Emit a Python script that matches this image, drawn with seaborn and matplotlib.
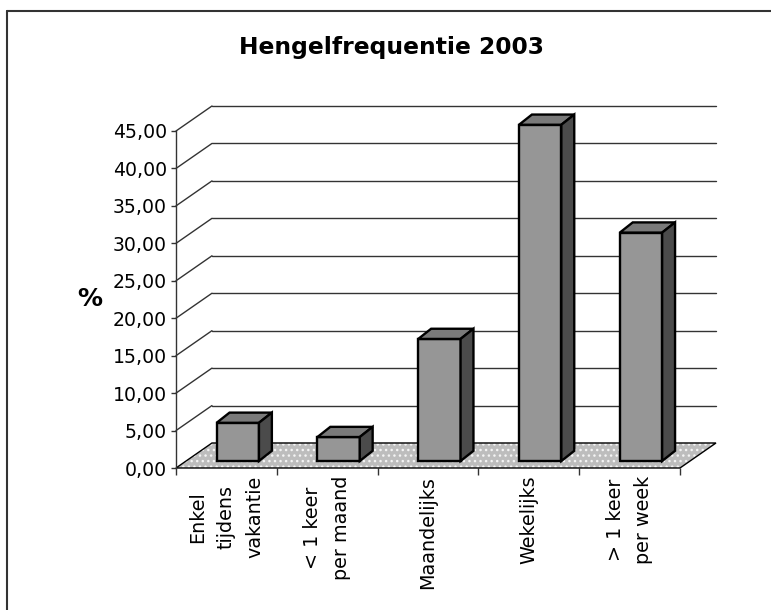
import matplotlib
matplotlib.use("Agg")
import matplotlib.pyplot as plt
from matplotlib.patches import Polygon, Rectangle
from matplotlib.lines import Line2D
from matplotlib.ticker import FuncFormatter, FixedLocator
import seaborn as sns
import pandas as pd

# ---- data ----
categories = ["Enkel\ntijdens\nvakantie", "< 1 keer\nper maand", "Maandelijks", "Wekelijks", "> 1 keer\nper week"]
values = [5.1, 3.2, 16.3, 44.9, 30.5]
y_ticks = [0, 5, 10, 15, 20, 25, 30, 35, 40, 45]
title = "Hengelfrequentie 2003"
y_label = "%"

sns.set_style("white")
plt.rcParams["font.family"] = ["DejaVu Sans"]
plt.rcParams["text.color"] = "black"
plt.rcParams["axes.labelcolor"] = "black"
plt.rcParams["xtick.color"] = "black"
plt.rcParams["ytick.color"] = "black"
plt.rcParams["hatch.linewidth"] = 1.0

W, H = 771, 610
fig = plt.figure(figsize=(W / 100, H / 100), dpi=100)
ax = fig.add_axes([176 / W, (H - 468) / H, 504 / W, 337 / H])

df = pd.DataFrame({"cat": categories, "val": values})

# depth geometry (data units)
DX, DY = 0.357, 3.34          # wall depth
FX, FY = 0.113, 0.935         # bar front-face offset
BX, BY = 0.128, 1.36          # bar depth
BAR_W = 0.42

front_col = "#969696"
top_col = "#7a7a7a"
side_col = "#4b4b4b"

sns.barplot(data=df, x="cat", y="val", color=front_col, saturation=1,
            width=BAR_W, edgecolor="black", linewidth=1.7, ax=ax, zorder=3)
bars = [p for p in ax.patches if isinstance(p, Rectangle)]

ax.set_xlim(-0.5, 4.5)
ax.set_ylim(0, 45)

# back wall gridlines and diagonals
for v in y_ticks:
    if v > 0:
        ax.plot([-0.5, -0.5 + DX], [v, v + DY], color="#333333", lw=1.0, zorder=0.5, clip_on=False)
        ax.plot([-0.5 + DX, 4.5 + DX], [v + DY, v + DY], color="#333333", lw=1.0, zorder=0.5, clip_on=False)

# floor
floor_pts = [(-0.5, 0), (4.5, 0), (4.5 + DX, DY), (-0.5 + DX, DY)]
ax.add_patch(Polygon(floor_pts, closed=True, facecolor="#bdbdbd", edgecolor="#f4f4f4",
                     hatch="...", linewidth=0, zorder=1, clip_on=False))
ax.add_patch(Polygon(floor_pts, closed=True, fill=False, edgecolor="black",
                     linewidth=1.0, zorder=1.1, clip_on=False))

# move bars onto the floor and add 3D top / side faces
for p in bars:
    p.set_x(p.get_x() + FX)
    p.set_y(FY)
    p.set_clip_on(False)
    x0, w, h = p.get_x(), p.get_width(), p.get_height()
    y0 = FY
    top = [(x0, y0 + h), (x0 + w, y0 + h), (x0 + w + BX, y0 + h + BY), (x0 + BX, y0 + h + BY)]
    side = [(x0 + w, y0), (x0 + w + BX, y0 + BY), (x0 + w + BX, y0 + h + BY), (x0 + w, y0 + h)]
    ax.add_patch(Polygon(top, closed=True, facecolor=top_col, edgecolor="black",
                         linewidth=1.7, zorder=3, clip_on=False, joinstyle="miter"))
    ax.add_patch(Polygon(side, closed=True, facecolor=side_col, edgecolor="black",
                         linewidth=1.7, zorder=3, clip_on=False, joinstyle="miter"))

# spines
for s in ["top", "right", "bottom"]:
    ax.spines[s].set_visible(False)
ax.spines["left"].set_color("#333333")
ax.spines["left"].set_linewidth(1.0)

# y axis
ax.yaxis.set_major_locator(FixedLocator(y_ticks))
ax.yaxis.set_major_formatter(FuncFormatter(lambda v, pos: f"{v:.2f}".replace(".", ",")))
ax.tick_params(axis="y", which="major", left=True, length=3.6, width=1.0, color="#333333",
               pad=3, labelsize=13.6, labelcolor="black")
ax.set_ylabel(y_label, rotation=0, fontsize=18, fontweight="bold", ha="center", va="center")
ax.yaxis.set_label_coords((90 - 176) / 504, (468 - 299) / 337)

# x axis
ax.set_xlabel("")
ax.set_xticks(range(len(categories)))
ax.set_xticklabels(categories, rotation=90, va="top", ha="center",
                   multialignment="center", linespacing=1.65, fontsize=13.8)
ax.xaxis.set_minor_locator(FixedLocator([-0.5, 0.5, 1.5, 2.5, 3.5, 4.5]))
ax.tick_params(axis="x", which="major", bottom=True, length=0, pad=5.5, labelcolor="black")
ax.tick_params(axis="x", which="minor", bottom=True, length=5, width=1.0, color="#333333")

ax.set_facecolor("none")

# title
fig.text(391.5 / W, 1 - 54 / H, title, ha="center", va="baseline",
         fontsize=16.8, fontweight="bold", color="black")

# chart border (top and left visible)
fig.add_artist(Line2D([7 / W, 1.0], [1 - 11 / H, 1 - 11 / H], transform=fig.transFigure,
                      color="#333333", lw=1.5))
fig.add_artist(Line2D([7 / W, 7 / W], [0.0, 1 - 11 / H], transform=fig.transFigure,
                      color="#333333", lw=1.5))

fig.savefig("out.png", dpi=100)
